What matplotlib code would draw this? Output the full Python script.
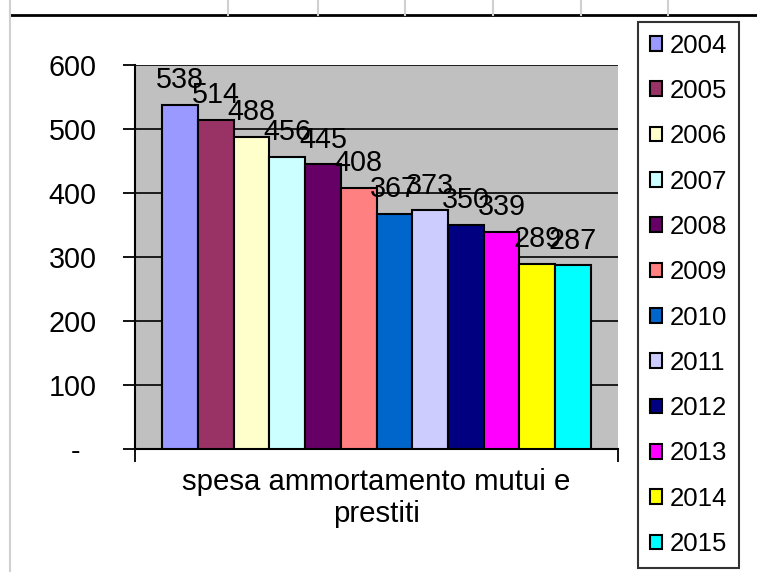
import matplotlib
matplotlib.use("Agg")
import matplotlib.pyplot as plt
from matplotlib.patches import Patch
from matplotlib.lines import Line2D
import numpy as np

years = ["2004", "2005", "2006", "2007", "2008", "2009",
         "2010", "2011", "2012", "2013", "2014", "2015"]
values = [538, 514, 488, 456, 445, 408, 367, 373, 350, 339, 289, 287]
colors = ["#9999FF", "#993366", "#FFFFCC", "#CCFFFF", "#660066", "#FF8080",
          "#0066CC", "#CCCCFF", "#000080", "#FF00FF", "#FFFF00", "#00FFFF"]
category = "spesa ammortamento mutui e\nprestiti"
yticks = [0, 100, 200, 300, 400, 500, 600]
ytick_labels = ["-  ", "100", "200", "300", "400", "500", "600"]

plt.rcParams['font.family'] = ['Liberation Sans', 'DejaVu Sans']
FS_TICK = 20.7
FS_DATA = 20.7
FS_CAT = 21.2
FS_LEG = 18.5

fig = plt.figure(figsize=(7.57, 5.72), dpi=100)
ax = fig.add_axes([135/757, 1-449/572, (618-135)/757, (449-65)/572])
ax.set_facecolor("#C0C0C0")

n = len(values)
xs = np.arange(n) - (n - 1) / 2
ax.bar(xs, values, width=1.0, color=colors, edgecolor="black",
       linewidth=1.5, zorder=3)
for x, v in zip(xs, values):
    ax.annotate(str(v), (x, v), xytext=(0, 12), textcoords="offset points",
                ha="center", va="baseline", fontsize=FS_DATA, zorder=5)

ax.set_xlim(-n/2 - 0.76, n/2 + 0.76)
ax.set_ylim(0, 600)
ax.set_yticks(yticks)
ax.set_yticklabels(ytick_labels, fontsize=FS_TICK)
ax.yaxis.grid(True, color="black", linewidth=1.2, zorder=1)
ax.set_axisbelow(True)
ax.set_xticks(ax.get_xlim())
ax.set_xticklabels(["", ""])
ax.tick_params(axis="both", direction="out", length=9, width=1.3, colors="black")
ax.tick_params(axis="y", pad=18.7)
for s in ["top", "right"]:
    ax.spines[s].set_visible(False)
for s in ["left", "bottom"]:
    ax.spines[s].set_linewidth(1.5)

ax.text(0.5, -0.05, category, transform=ax.transAxes, ha="center", va="top",
        fontsize=FS_CAT, linespacing=1.18)

handles = [Patch(facecolor=c, edgecolor="black", linewidth=1.5, label=y)
           for c, y in zip(colors, years)]
leg = fig.legend(handles=handles, loc="upper left",
                 bbox_to_anchor=(638/757, 1-22/572), fontsize=FS_LEG,
                 frameon=True, fancybox=False, borderaxespad=0,
                 handlelength=0.5, handleheight=0.5, handletextpad=0.3,
                 labelspacing=0.83, borderpad=0.45)
leg.get_frame().set_edgecolor("black")
leg.get_frame().set_linewidth(1.5)

# spreadsheet-like frame lines
fig.add_artist(Line2D([10/757, 1], [1-15/572, 1-15/572], color="black",
                      linewidth=2, transform=fig.transFigure))
fig.add_artist(Line2D([10/757, 10/757], [0, 1], color="#D0D0D0",
                      linewidth=1.5, transform=fig.transFigure))
for xv in [228, 318, 405, 493, 581, 668]:
    fig.add_artist(Line2D([xv/757, xv/757], [1-15/572, 1], color="#D0D0D0",
                          linewidth=1.5, transform=fig.transFigure))

fig.savefig("out.png", dpi=100)
